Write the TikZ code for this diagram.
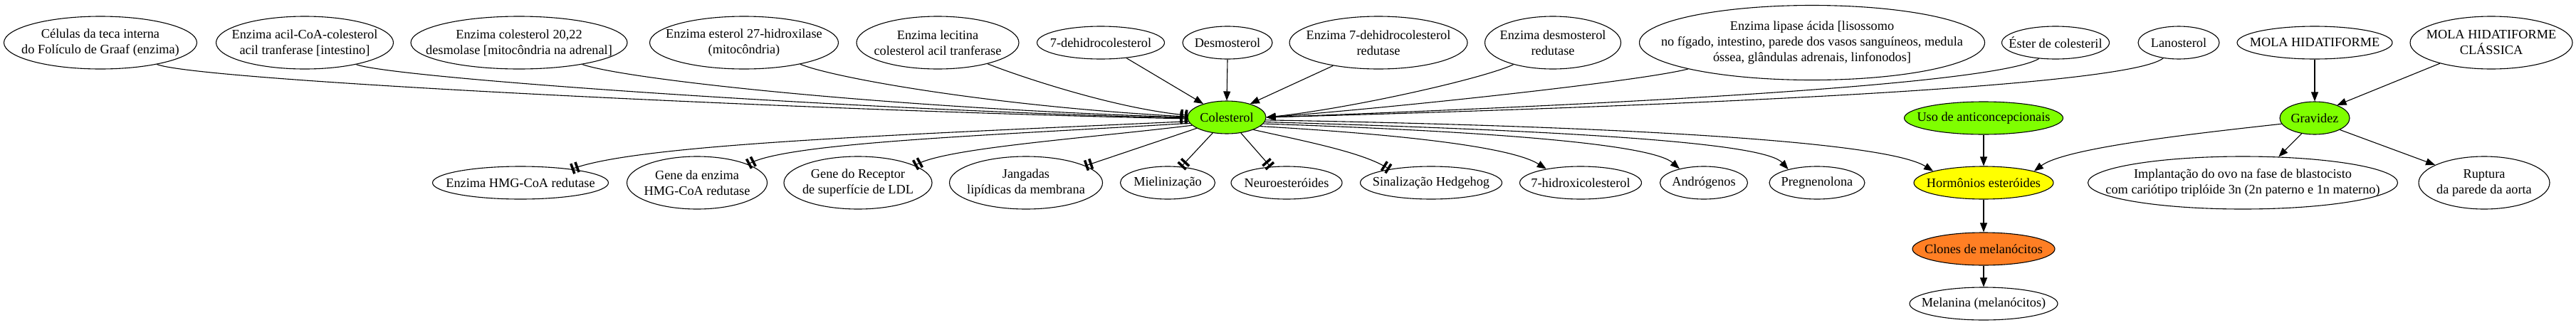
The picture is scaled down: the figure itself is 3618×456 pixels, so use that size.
\documentclass[tikz,border=0pt]{standalone}
\usepackage{fontspec}
\setmainfont{Liberation Serif}
\usetikzlibrary{shapes.geometric,arrows.meta}
\definecolor{chart}{HTML}{7FFF00}
\definecolor{yel}{HTML}{FFFF00}
\definecolor{orng}{HTML}{FF7F24}
\begin{document}
\begin{tikzpicture}[x=1pt,y=-1pt,
  nd/.style 2 args={ellipse,draw,line width=1.1pt,minimum width=#1pt,minimum height=#2pt,inner sep=0pt},
  txt/.style={align=center,font=\fontsize{18.3}{22}\selectfont,inner sep=0pt},
  edge/.style={line width=1.1pt},
  arr/.style={edge,-{Triangle[length=13pt,width=10pt]}},
  tee/.style={edge,-{Rectangle[length=3.5pt,width=15pt,sep=3pt]Rectangle[length=3.5pt,width=15pt]}}]
\useasboundingbox (0,0) rectangle (3618,456);
% top row
\node[nd={271}{74},label={[txt]center:{Células da teca interna\\do Folículo de Graaf (enzima)}}] (celulas) at (141,60) {};
\node[nd={249}{74},label={[txt]center:{Enzima acil-CoA-colesterol\\acil tranferase [intestino]}}] (acil) at (428,60) {};
\node[nd={304}{74},label={[txt]center:{Enzima colesterol 20,22\\desmolase [mitocôndria na adrenal]}}] (desmolase) at (729,60) {};
\node[nd={265}{74},label={[txt]center:{Enzima esterol 27-hidroxilase\\(mitocôndria)}}] (esterol) at (1045,60) {};
\node[nd={228}{74},label={[txt]center:{Enzima lecitina\\colesterol acil tranferase}}] (lecitina) at (1317,60) {};
\node[nd={179}{46},label={[txt]center:{7-dehidrocolesterol}}] (dehidro) at (1546,60) {};
\node[nd={126}{46},label={[txt]center:{Desmosterol}}] (desmo) at (1724,60) {};
\node[nd={250}{74},label={[txt]center:{Enzima 7-dehidrocolesterol\\redutase}}] (enzdehidro) at (1936,60) {};
\node[nd={191}{74},label={[txt]center:{Enzima desmosterol\\redutase}}] (enzdesmo) at (2181,60) {};
\node[nd={485}{105},label={[txt]center:{Enzima lipase ácida [lisossomo\\no fígado, intestino, parede dos vasos sanguíneos, medula\\óssea, glândulas adrenais, linfonodos]}}] (lipase) at (2545,60) {};
\node[nd={151}{46},label={[txt]center:{Éster de colesteril}}] (ester) at (2887,60) {};
\node[nd={114}{46},label={[txt]center:{Lanosterol}}] (lanosterol) at (3060,60) {};
\node[nd={218}{46},label={[txt]center:{MOLA HIDATIFORME}}] (mola) at (3251,60) {};
\node[nd={228}{74},label={[txt]center:{MOLA HIDATIFORME\\CLÁSSICA}}] (molacl) at (3499,60) {};
% middle row
\node[nd={110}{46},fill=chart,label={[txt]center:{Colesterol}}] (colesterol) at (1723,165) {};
\node[nd={223}{46},fill=chart,label={[txt]center:{Uso de anticoncepcionais}}] (uso) at (2786,166) {};
\node[nd={98}{46},fill=chart,label={[txt]center:{Gravidez}}] (grav) at (3251,166) {};
% bottom row
\node[nd={247}{46},label={[txt]center:{Enzima HMG-CoA redutase}}] (hmg) at (731,257) {};
\node[nd={197}{74},label={[txt]center:{Gene da enzima\\HMG-CoA redutase}}] (geneenz) at (979,257) {};
\node[nd={208}{74},label={[txt]center:{Gene do Receptor\\de superfície de LDL}}] (generec) at (1205,257) {};
\node[nd={215}{74},label={[txt]center:{Jangadas\\lipídicas da membrana}}] (jang) at (1441,257) {};
\node[nd={133}{46},label={[txt]center:{Mielinização}}] (miel) at (1640,257) {};
\node[nd={156}{46},label={[txt]center:{Neuroesteróides}}] (neuro) at (1807,257) {};
\node[nd={199}{46},label={[txt]center:{Sinalização Hedgehog}}] (sinal) at (2010,257) {};
\node[nd={171}{46},label={[txt]center:{7-hidroxicolesterol}}] (hidroxi) at (2220,257) {};
\node[nd={123}{46},label={[txt]center:{Andrógenos}}] (andro) at (2393,257) {};
\node[nd={134}{46},label={[txt]center:{Pregnenolona}}] (pregn) at (2552,257) {};
\node[nd={196}{46},fill=yel,label={[txt]center:{Hormônios esteróides}}] (horm) at (2786,257) {};
\node[nd={435}{74},label={[txt]center:{Implantação do ovo na fase de blastocisto\\com cariótipo triplóide 3n (2n paterno e 1n materno)}}] (impl) at (3150,257) {};
\node[nd={184}{74},label={[txt]center:{Ruptura\\da parede da aorta}}] (rupt) at (3489,257) {};
\node[nd={200}{46},fill=orng,label={[txt]center:{Clones de melanócitos}}] (clones) at (2786,350) {};
\node[nd={208}{46},label={[txt]center:{Melanina (melanócitos)}}] (melanina) at (2786,427) {};
% edges into Colesterol (west, tee)
\draw[tee] (celulas.-21) .. controls (280,114) and (1150,156) .. (colesterol.182);
\draw[tee] (acil.-23) .. controls (553,110) and (1200,155) .. (colesterol.181);
\draw[tee] (desmolase.-19) .. controls (880,112) and (1250,152) .. (colesterol.180);
\draw[tee] (esterol.-21) .. controls (1172,110) and (1400,150) .. (colesterol.179);
\draw[tee] (lecitina.-23) .. controls (1420,103) and (1560,152) .. (colesterol.177);
% edges into Colesterol (arrows)
\draw[arr] (dehidro.-31) -- (colesterol.150);
\draw[arr] (desmo.south) -- (colesterol.north);
\draw[arr] (enzdehidro.207) -- (colesterol.30);
\draw[arr] (enzdesmo.209) .. controls (2085,110) and (1900,152) .. (colesterol.0);
\draw[arr] (lipase.192) .. controls (2300,115) and (1950,152) .. (colesterol.0);
\draw[arr] (ester.224) .. controls (2815,112) and (2450,140) .. (colesterol.0);
\draw[arr] (lanosterol.225) .. controls (2995,117) and (2500,145) .. (colesterol.0);
% edges out of Colesterol
\draw[tee] (colesterol.186) .. controls (1250,190) and (900,203) .. (hmg.15);
\draw[tee] (colesterol.189) .. controls (1400,190) and (1110,200) .. (geneenz.20);
\draw[tee] (colesterol.193) .. controls (1520,195) and (1330,208) .. (generec.17);
\draw[tee] (colesterol.200) -- (jang.16);
\draw[tee] (colesterol.228) -- (miel.50);
\draw[tee] (colesterol.-48) -- (neuro.135);
\draw[tee] (colesterol.-25) .. controls (1840,200) and (1915,215) .. (sinal.162);
\draw[arr] (colesterol.-15) .. controls (1950,188) and (2120,205) .. (hidroxi.158);
\draw[arr] (colesterol.-10) .. controls (2100,185) and (2320,203) .. (andro.150);
\draw[arr] (colesterol.-7) .. controls (2250,185) and (2480,203) .. (pregn.155);
\draw[arr] (colesterol.-4) .. controls (2300,178) and (2650,200) .. (horm.167);
% right part
\draw[arr] (uso.south) -- (horm.north);
\draw[arr] (grav.190) .. controls (3080,188) and (2900,208) .. (horm.13);
\draw[arr] (grav.230) -- (impl.36);
\draw[arr] (grav.-25) -- (rupt.160);
\draw[arr] (mola.south) -- (grav.north);
\draw[arr] (molacl.202) -- (grav.30);
\draw[arr] (horm.south) -- (clones.north);
\draw[arr] (clones.south) -- (melanina.north);
\end{tikzpicture}
\end{document}
